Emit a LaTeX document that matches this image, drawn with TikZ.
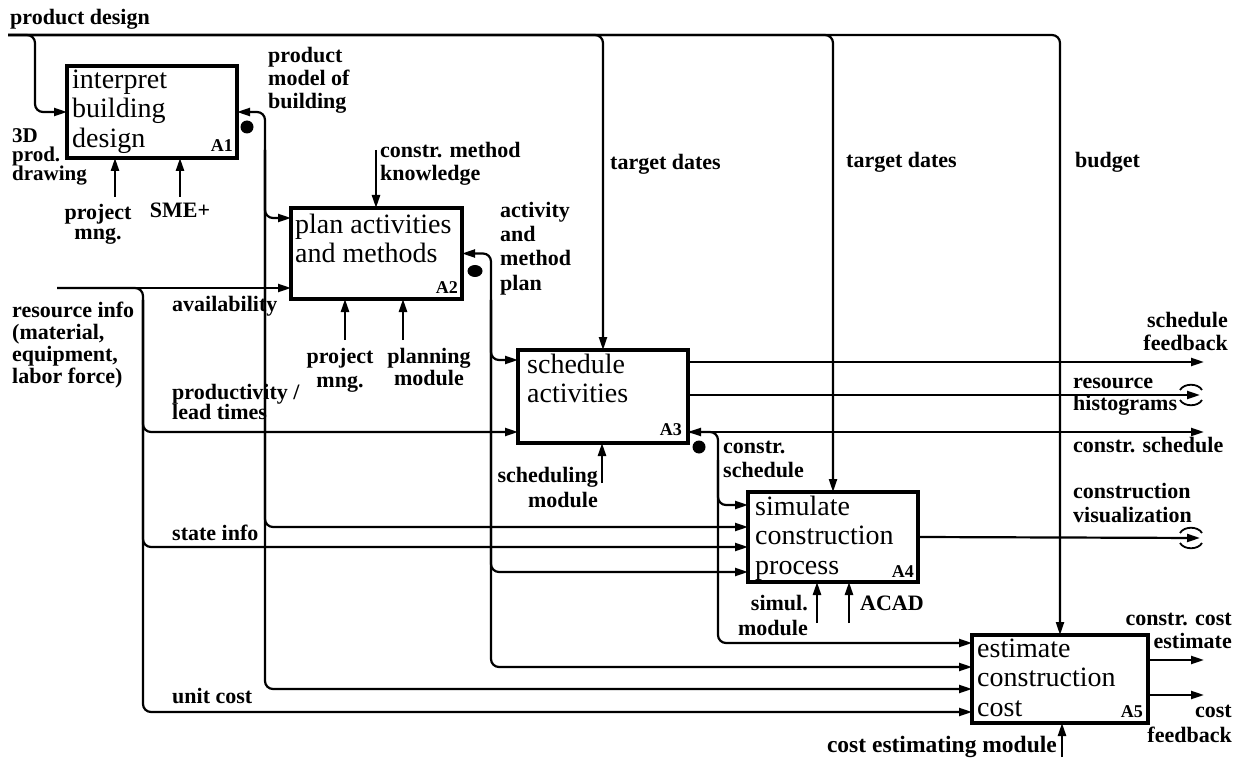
\documentclass[tikz,border=0pt]{standalone}
\usepackage{fontspec}
\setmainfont{Liberation Serif}
\usetikzlibrary{arrows.meta,calc,shapes.geometric}
\newcommand\labf[1]{\fontsize{22}{#1}\selectfont\bfseries\lineskiplimit=-50pt\relax}
\newcommand\labs[2]{\fontsize{#1}{#2}\selectfont\bfseries\lineskiplimit=-50pt\relax}
\newcommand\boxf{\fontsize{28}{29.5}\selectfont\lineskiplimit=-50pt\relax}
\newcommand\idf{\fontsize{18}{18}\selectfont\bfseries}
\tikzset{
  tri/.tip={Triangle[length=13pt,width=8pt]},
  conn/.style={line width=2.2pt, rounded corners=8pt},
  arr/.style={conn,-tri},
  arrLR/.style={conn,tri-tri},
  arrM/.style={line width=2.4pt,-tri},
  idefbox/.style n args={2}{draw, line width=4pt, anchor=north west, inner sep=0pt, outer sep=0pt, minimum width=#1, minimum height=#2},
  btxt/.style={inner sep=0pt, align=left, anchor=north west, font=\boxf},
  idt/.style={inner sep=0pt, anchor=base east, font=\idf},
  lab/.style={inner sep=0pt, align=left, anchor=north west, font=\labf{#1}},
  labr/.style={inner sep=0pt, align=right, anchor=north east, font=\labf{#1}},
  labc/.style={inner sep=0pt, align=center, anchor=north, font=\labf{#1}},
  lab1/.style={inner sep=0pt, font=\labf{22}},
  dotn/.style={circle, fill, inner sep=0pt, minimum size=13pt},
  tunnel/.style={line width=1.8pt}
}
\begin{document}
\begin{tikzpicture}[x=1pt,y=-1pt]
\fill[white] (0,0) rectangle (1243,762);
\useasboundingbox (0,0) rectangle (1243,762);

% boxes
\node[idefbox={170pt}{92pt}] (A1) at (67,66) {};
\node[idefbox={171pt}{91pt}] (A2) at (291,208) {};
\node[idefbox={170pt}{93pt}] (A3) at (518,350) {};
\node[idefbox={170pt}{90pt}] (A4) at (748,492) {};
\node[idefbox={176pt}{88pt}] (A5) at (972,635) {};

\node[btxt] (A1t) at ($(A1.north west)+(5,1.4)$) {\strut interpret\\building\\design};
\node[btxt] (A2t) at ($(A2.north west)+(4,4.3)$) {\strut plan activities\\and methods};
\node[btxt] (A3t) at ($(A3.north west)+(9,2.3)$) {\strut schedule\\activities};
\node[btxt] (A4t) at ($(A4.north west)+(7,2.3)$) {\strut simulate\\construction\\process};
\node[btxt] (A5t) at ($(A5.north west)+(5,1.3)$) {\strut estimate\\construction\\cost};

\node[idt] (A1id) at (233,152) {A1};
\node[idt] (A2id) at (458,294) {A2};
\node[idt] (A3id) at (682,435) {A3};
\node[idt] (A4id) at (914,577) {A4};
\node[idt] (A5id) at (1143,717) {A5};

% coordinates
\coordinate (pdS) at (8,35);
\coordinate (riS) at (57,288);
\coordinate (V0) at (143,300);
\coordinate (V1) at (265,150);
\coordinate (V2) at (491,300);
\coordinate (V3) at (718,460);
\coordinate (a1in) at (35,0);
\coordinate (iA2a) at (0,218);
\coordinate (iA3a) at (0,360);
\coordinate (iA3b) at (0,432);
\coordinate (iA4a) at (0,505);
\coordinate (iA4b) at (0,527);
\coordinate (iA4c) at (0,547);
\coordinate (iA4d) at (0,572);
\coordinate (iA5a) at (0,643);
\coordinate (iA5b) at (0,667);
\coordinate (iA5c) at (0,689);
\coordinate (iA5d) at (0,712);
\coordinate (oA3a) at (0,362);
\coordinate (oA3b) at (0,395);
\coordinate (oA3c) at (0,432);
\coordinate (oA5a) at (0,660);
\coordinate (oA5b) at (0,695);
\coordinate (xE) at (1204,0);
\coordinate (rhE) at (1200,395);
\coordinate (cvE) at (1200,538);
\coordinate (m11) at (115,197);
\coordinate (m12) at (180,197);
\coordinate (c21) at (376,150);
\coordinate (m21) at (345,340);
\coordinate (m22) at (403,340);
\coordinate (m31) at (602,483);
\coordinate (m41) at (817,623);
\coordinate (m42) at (849,623);
\coordinate (m51) at (1062,757);

% product design
\draw[arr] (pdS) -| (A5.north);
\draw[arr] (pdS) -| (A3.north);
\draw[arr] (pdS) -| (A4.north);
\draw[arr] (pdS) -| (a1in |- A1.west) -- (A1.west);

% A1 output
\draw[arrLR] (A1.east) -| (V1 |- iA5c) -- (iA5c -| A5.west);
\draw[arr] (V1) |- (iA2a -| A2.west);
\draw[arr] (V1) |- (iA4b -| A4.west);
\node[dotn] (d1) at (247,127) {};

% A2 output
\draw[arrLR] (A2.east) -| (V2 |- iA5b) -- (iA5b -| A5.west);
\draw[arr] (V2) |- (iA3a -| A3.west);
\draw[arr] (V2) |- (iA4d -| A4.west);
\node[dotn, ellipse, minimum width=15pt, minimum height=12pt] (d2) at (475,271) {};

% A3 outputs
\draw[arrLR] (A3.east |- oA3c) -- (xE |- oA3c);
\draw[arr] (A3.east |- oA3c) -| (V3 |- iA5a) -- (iA5a -| A5.west);
\draw[arr] (V3) |- (iA4a -| A4.west);
\draw[arr] (A3.east |- oA3a) -- (xE |- oA3a);
\draw[arr] (A3.east |- oA3b) -- (rhE);
\draw[tunnel] ($(rhE)+(-20,-5)$) .. controls ($(rhE)+(-16,-12)$) and ($(rhE)+(-2,-12)$) .. ($(rhE)+(2,-5)$);
\draw[tunnel] ($(rhE)+(-20,5)$) .. controls ($(rhE)+(-16,12)$) and ($(rhE)+(-2,12)$) .. ($(rhE)+(2,5)$);
\node[dotn] (d3) at (699,447) {};

% resource info
\draw[arr] (riS) -- (riS -| A2.west);
\draw[arr] (riS) -| (V0 |- iA5d) -- (iA5d -| A5.west);
\draw[arr] (V0) |- (iA3b -| A3.west);
\draw[arr] (V0) |- (iA4c -| A4.west);

% A4 output
\draw[arr] (A4.east) -- (cvE);
\draw[tunnel] ($(cvE)+(-20,-5)$) .. controls ($(cvE)+(-16,-12)$) and ($(cvE)+(-2,-12)$) .. ($(cvE)+(2,-5)$);
\draw[tunnel] ($(cvE)+(-20,5)$) .. controls ($(cvE)+(-16,12)$) and ($(cvE)+(-2,12)$) .. ($(cvE)+(2,5)$);

% A5 outputs
\draw[arr] (A5.east |- oA5a) -- (xE |- oA5a);
\draw[arr] (A5.east |- oA5b) -- (xE |- oA5b);

% controls / mechanisms
\draw[arrM] (m11) -- (m11 |- A1.south);
\draw[arrM] (m12) -- (m12 |- A1.south);
\draw[arrM] (c21) -- (c21 |- A2.north);
\draw[arrM] (m21) -- (m21 |- A2.south);
\draw[arrM] (m22) -- (m22 |- A2.south);
\draw[arrM] (m31) -- (m31 |- A3.south);
\draw[arrM] (m41) -- (m41 |- A4.south);
\draw[arrM] (m42) -- (m42 |- A4.south);
\draw[arrM] (m51) -- (m51 |- A5.south);

% labels
\node[lab1, anchor=base west] (Lpd) at (10,25) {product design};
\node[lab={19}, font=\labs{21}{19}] (L3d) at (12,128.7) {\strut 3D\\prod.\\drawing};
\node[labc={20}] (Lpm1) at (98,204) {\strut project\\mng.};
\node[lab1, anchor=base] (Lsme) at (180,218) {SME+};
\node[lab={23}] (Lpmb) at (268,45.9) {\strut product\\model of\\building};
\node[lab={23}] (Lcmk) at (380,140.9) {\strut constr. method\\knowledge};
\node[lab={24.3}] (Lamp) at (500,200) {\strut activity\\and\\method\\plan};
\node[lab1, anchor=base west] (Ltd1) at (610,170) {target dates};
\node[lab1, anchor=base west] (Ltd2) at (846,168) {target dates};
\node[lab1, anchor=base west] (Lbud) at (1075,168) {budget};
\node[lab1, anchor=base west] (Lav) at (172,312) {availability};
\node[lab={22}] (Lri) at (12,301.6) {\strut resource info\\(material,\\equipment,\\labor force)};
\node[labc={24}] (Lpm2) at (340,346.2) {\strut project\\mng.};
\node[labc={22}] (Lplm) at (429,347.6) {\strut planning\\module};
\node[lab={20}] (Lplt) at (172,384) {\strut productivity /\\lead times};
\node[lab1, anchor=base west] (Lsi) at (172,540) {state info};
\node[lab1, anchor=base west] (Luc) at (172,703) {unit cost};
\node[labr={25}] (Lscm) at (598,464.5) {\strut scheduling\\module};
\node[lab={24}] (Lcs1) at (723,436.2) {\strut constr.\\schedule};
\node[labr={23}] (Lsf) at (1228,310.9) {\strut schedule\\feedback};
\node[lab={22}] (Lrh) at (1073,372.6) {\strut resource\\histograms};
\node[lab1, anchor=base west] (Lcs2) at (1073,452) {constr. schedule};
\node[lab={24}] (Lcv) at (1073,481.2) {\strut construction\\visualization};
\node[labr={25}] (Lsm) at (808,592.5) {\strut simul.\\module};
\node[lab1, anchor=base west] (Lacad) at (860,610) {ACAD};
\node[labr={23}] (Lcce) at (1232,608.9) {\strut constr. cost\\estimate};
\node[labr={25}] (Lcf) at (1232,699.5) {\strut cost\\feedback};
\node[lab1, anchor=base east, font=\labs{23.5}{24}] (Lcem) at (1057,752) {cost estimating module};
\end{tikzpicture}
\end{document}
